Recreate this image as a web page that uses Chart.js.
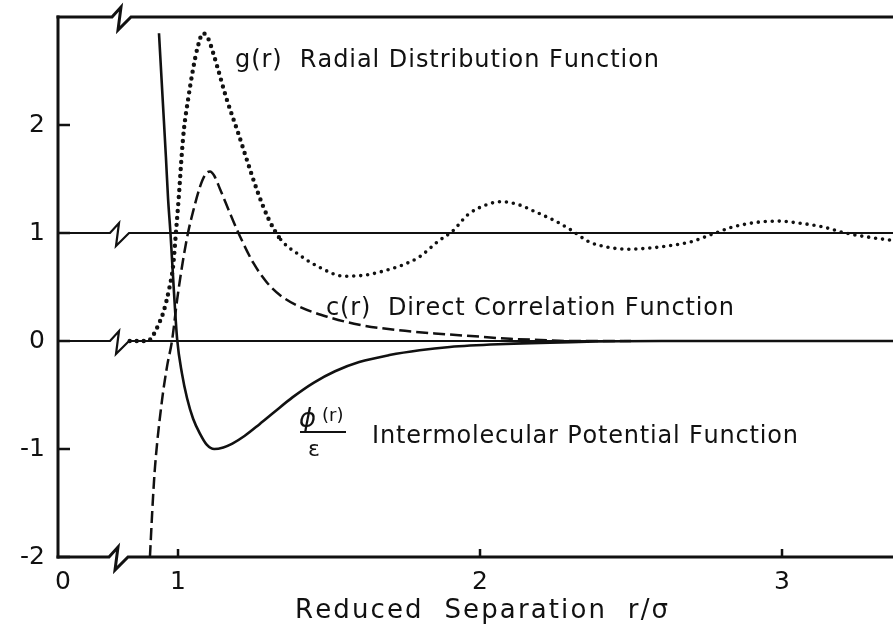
<!DOCTYPE html>
<html>
<head>
<meta charset="utf-8">
<script src="https://cdn.jsdelivr.net/npm/chart.js@4"></script>
<style>
  html, body { margin: 0; padding: 0; background: #fff; }
  #wrap { width: 893px; height: 638px; }
</style>
</head>
<body>
<div id="wrap"><canvas id="c" width="893" height="638"></canvas></div>
<script>
// ---- data (r = reduced separation r/sigma) ----
const R_G   = [0.84, 0.90, 0.917, 0.935, 0.952, 0.972, 0.984, 0.993, 1.003, 1.013, 1.02, 1.033, 1.05, 1.065, 1.083, 1.10, 1.115, 1.13, 1.16, 1.20, 1.23, 1.265, 1.30, 1.34, 1.40, 1.47, 1.55, 1.62, 1.67, 1.74, 1.80, 1.86, 1.91, 1.96, 2.02, 2.07, 2.13, 2.18, 2.25, 2.30, 2.36, 2.42, 2.49, 2.56, 2.62, 2.70, 2.77, 2.83, 2.92, 2.99, 3.06, 3.13, 3.21, 3.29, 3.37];
const G_VAL = [0.00, 0.00, 0.05, 0.15, 0.27, 0.50, 0.70, 1.00, 1.35, 1.75, 1.97, 2.23, 2.52, 2.72, 2.85, 2.80, 2.68, 2.54, 2.25, 1.92, 1.66, 1.37, 1.13, 0.94, 0.80, 0.68, 0.60, 0.61, 0.64, 0.70, 0.78, 0.92, 1.02, 1.17, 1.26, 1.29, 1.26, 1.20, 1.11, 1.03, 0.92, 0.87, 0.85, 0.86, 0.88, 0.92, 0.99, 1.05, 1.10, 1.11, 1.09, 1.06, 1.00, 0.96, 0.93];

const R_C   = [0.907, 0.917, 0.924, 0.947, 0.964, 0.98, 0.997, 1.015, 1.033, 1.05, 1.073, 1.09, 1.106, 1.12, 1.14, 1.18, 1.205, 1.25, 1.295, 1.34, 1.40, 1.50, 1.60, 1.73, 1.85, 2.00, 2.10, 2.20, 2.30, 2.50];
const C_VAL = [-2.00, -1.46, -1.16, -0.55, -0.23, 0.00, 0.38, 0.72, 1.00, 1.20, 1.43, 1.54, 1.57, 1.53, 1.40, 1.13, 0.97, 0.72, 0.54, 0.42, 0.32, 0.22, 0.15, 0.10, 0.07, 0.04, 0.02, 0.01, 0.00, 0.00];

const R_PHI   = [0.937, 0.95, 0.96, 0.967, 0.975, 0.986, 0.997, 1.013, 1.03, 1.05, 1.073, 1.095, 1.12, 1.15, 1.18, 1.22, 1.27, 1.32, 1.38, 1.45, 1.52, 1.60, 1.70, 1.80, 1.90, 2.06, 2.30, 2.60, 3.37];
const PHI_VAL = [2.85, 2.20, 1.70, 1.32, 1.00, 0.48, 0.02, -0.30, -0.53, -0.72, -0.86, -0.96, -1.00, -0.985, -0.95, -0.88, -0.77, -0.655, -0.52, -0.385, -0.28, -0.195, -0.13, -0.085, -0.055, -0.03, -0.01, 0.00, 0.00];

// axis (x axis is broken between 0 and ~0.8, so "0" sits just right of the corner)
const X_TICKS       = [0.619, 1, 2, 3];
const X_TICK_LABELS = ['0', '1', '2', '3'];
const Y_TICKS       = [-2, -1, 0, 1, 2];
const Y_TICK_LABELS = ['-2', '-1', '0', '1', '2'];
const REF_LINES     = [0, 1];

const INK = '#111';
const FONT = '"DejaVu Sans", sans-serif';

const pts = (xs, ys) => xs.map((x, i) => ({ x, y: ys[i] }));

// little "break" zig-zag drawn into a horizontal line
function brokenLine(ctx, x0, x1, y, bx) {
  ctx.beginPath();
  ctx.moveTo(x0, y);
  ctx.lineTo(bx, y);
  ctx.lineTo(bx + 9, y - 10);
  ctx.lineTo(bx + 6, y + 13);
  ctx.lineTo(bx + 19, y);
  ctx.lineTo(x1, y);
  ctx.stroke();
}

// text stretched to a given width (old typewriter-ish spacing)
function spacedText(ctx, str, x, y, width) {
  const chars = [...str];
  const w = chars.map(ch => ctx.measureText(ch).width);
  const total = w.reduce((a, b) => a + b, 0);
  const gap = (width - total) / (chars.length - 1);
  let cx = x;
  chars.forEach((ch, i) => { ctx.fillText(ch, cx, y); cx += w[i] + gap; });
}

const decor = {
  id: 'decor',
  beforeDraw(chart) {
    const ctx = chart.ctx;
    ctx.save();
    ctx.fillStyle = '#fff';
    ctx.fillRect(0, 0, chart.width, chart.height);
    ctx.restore();
  },
  beforeDatasetsDraw(chart) {
    const { ctx, chartArea: a, scales: { y } } = chart;
    ctx.save();
    ctx.strokeStyle = INK;
    ctx.lineWidth = 2.2;
    REF_LINES.forEach(v => brokenLine(ctx, a.left, a.right, y.getPixelForValue(v), 110));
    ctx.restore();
  },
  afterDatasetsDraw(chart) {
    const { ctx, chartArea: a, scales: { x, y } } = chart;
    ctx.save();
    ctx.strokeStyle = INK;
    ctx.fillStyle = INK;
    ctx.lineWidth = 3;
    // frame
    ctx.beginPath();
    ctx.moveTo(a.left, a.top - 1.5);
    ctx.lineTo(a.left, a.bottom + 1.5);
    ctx.stroke();
    brokenLine(ctx, a.left - 1.5, a.right, a.top, 112);
    brokenLine(ctx, a.left - 1.5, a.right, a.bottom, 109);
    // inward tick marks
    ctx.lineWidth = 2.5;
    Y_TICKS.forEach(v => {
      const py = y.getPixelForValue(v);
      ctx.beginPath(); ctx.moveTo(a.left, py); ctx.lineTo(a.left + 12, py); ctx.stroke();
    });
    X_TICKS.slice(1).forEach(v => {
      const px = x.getPixelForValue(v);
      ctx.beginPath(); ctx.moveTo(px, a.bottom); ctx.lineTo(px, a.bottom - 8); ctx.stroke();
    });

    // curve labels
    ctx.textBaseline = 'alphabetic';
    ctx.font = '24px ' + FONT;
    spacedText(ctx, 'g(r)  Radial Distribution Function', 235, 67, 424);
    spacedText(ctx, 'c(r)  Direct Correlation Function', 326, 315, 408);
    spacedText(ctx, 'Intermolecular Potential Function', 372, 443, 426);
    ctx.font = '26px ' + FONT;
    spacedText(ctx, 'Reduced  Separation  r/\u03c3', 295, 618, 373);

    // phi(r) / epsilon
    ctx.font = 'italic 26px ' + FONT;
    ctx.fillText('\u03d5', 299, 427);
    ctx.font = '18px ' + FONT;
    ctx.fillText('(r)', 322, 421);
    ctx.lineWidth = 2;
    ctx.beginPath(); ctx.moveTo(300, 432); ctx.lineTo(346, 432); ctx.stroke();
    ctx.font = '22px ' + FONT;
    ctx.textAlign = 'center';
    ctx.fillText('\u03b5', 314, 456);
    ctx.restore();
  }
};

new Chart(document.getElementById('c'), {
  type: 'line',
  data: {
    datasets: [
      {
        label: 'g(r) Radial Distribution Function',
        data: pts(R_G, G_VAL),
        borderColor: INK,
        borderWidth: 4.4,
        borderDash: [0, 7],
        borderCapStyle: 'round',
        pointRadius: 0,
        cubicInterpolationMode: 'monotone',
        segment: { borderWidth: ctx => (ctx.p0.parsed.x > 1.3 ? 3.6 : 4.4) }
      },
      {
        label: 'c(r) Direct Correlation Function',
        data: pts(R_C, C_VAL),
        borderColor: INK,
        borderWidth: 2.5,
        borderDash: [12, 5],
        pointRadius: 0,
        cubicInterpolationMode: 'monotone'
      },
      {
        label: '\u03c6(r)/\u03b5 Intermolecular Potential Function',
        data: pts(R_PHI, PHI_VAL),
        borderColor: INK,
        borderWidth: 2.6,
        pointRadius: 0,
        cubicInterpolationMode: 'monotone'
      }
    ]
  },
  options: {
    responsive: false,
    animation: false,
    layout: { padding: { top: 17, right: 0, left: 0, bottom: 0 } },
    plugins: { legend: { display: false }, tooltip: { enabled: false } },
    scales: {
      x: {
        type: 'linear',
        min: 0.6026,
        max: 3.3675,
        afterBuildTicks: s => { s.ticks = X_TICKS.map(v => ({ value: v })); },
        afterFit: s => { s.height = 81; s.paddingLeft = 0; s.paddingRight = 0; },
        grid: { display: false, drawTicks: false },
        border: { display: false },
        ticks: {
          autoSkip: false, maxRotation: 0, padding: 10,
          color: INK, font: { family: FONT, size: 25 },
          callback: (v, i) => X_TICK_LABELS[i]
        }
      },
      y: {
        min: -2,
        max: 3,
        afterBuildTicks: s => { s.ticks = Y_TICKS.map(v => ({ value: v })); },
        afterFit: s => { s.width = 58; s.paddingTop = 0; s.paddingBottom = 0; },
        grid: { display: false, drawTicks: false },
        border: { display: false },
        ticks: {
          padding: 13,
          color: INK, font: { family: FONT, size: 25 },
          callback: (v, i) => Y_TICK_LABELS[i]
        }
      }
    }
  },
  plugins: [decor]
});
</script>
</body>
</html>
